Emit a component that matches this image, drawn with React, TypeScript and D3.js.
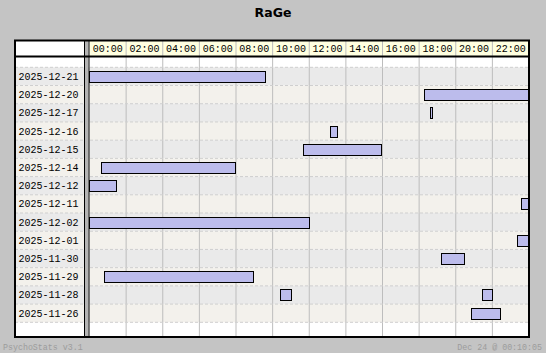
import * as d3 from 'd3';

const W = 546;
const H = 353;

// rows, top to bottom
const days = [
    '2025-12-21', '2025-12-20', '2025-12-17', '2025-12-16', '2025-12-15', '2025-12-14', '2025-12-12',
    '2025-12-11', '2025-12-02', '2025-12-01', '2025-11-30', '2025-11-29', '2025-11-28', '2025-11-26'
];
// sessions: day, start hour, end hour
const sessionDays = [
    '2025-12-21', '2025-12-20', '2025-12-17', '2025-12-16', '2025-12-15', '2025-12-14', '2025-12-12',
    '2025-12-11', '2025-12-02', '2025-12-01', '2025-11-30', '2025-11-29', '2025-11-28', '2025-11-28', '2025-11-26'
];
const sessionStart = [0, 18.3, 18.62, 13.16, 11.68, 0.65, 0, 23.6, 0, 23.38, 19.22, 0.81, 10.43, 21.47, 20.86];
const sessionEnd = [9.63, 24, 18.74, 13.54, 15.95, 7.99, 1.49, 24, 12.01, 24, 20.5, 8.97, 11.05, 22.03, 22.42];
const hourTicks = [0, 2, 4, 6, 8, 10, 12, 14, 16, 18, 20, 22];

const mono = '"Liberation Mono", "DejaVu Sans Mono", monospace';

export default function App() {
    const left = 15;
    const right = 529;
    const top = 41;
    const bottom = 337;
    const labelRight = 84.5;
    const headBottom = 56;
    const x = d3.scaleLinear().domain([0, 24]).range([89.5, right]);
    const y = d3.scaleBand<string>().domain(days).range([67.3, 322.3]);
    const rowH = y.bandwidth();
    const barH = 11;

    return (
        <div>
            <style>{'body{margin:0}'}</style>
            <svg width={W} height={H} style={{ display: 'block', background: '#c4c4c4' }}>
                <text x={W / 2} y={17} textAnchor="middle" fontFamily="DejaVu Sans, sans-serif" fontWeight="bold" fontSize={12.5} fill="#000">
                    RaGe
                </text>

                {/* frame background */}
                <rect x={left} y={top} width={right - left} height={bottom - top} fill="#fff" />

                {/* row backgrounds */}
                {days.map((d, i) => (
                    <rect key={d} x={left} y={y(d)} width={right - left} height={rowH} fill={i % 2 === 0 ? '#eaeaea' : '#f3f1ec'} />
                ))}

                {/* header cells */}
                {hourTicks.map((h) => (
                    <g key={h}>
                        <rect x={x(h)} y={top} width={x(h + 2) - x(h)} height={headBottom - top} fill="#ffffe0" />
                        <text x={(x(h) + x(h + 2)) / 2} y={(top + headBottom) / 2 + 3.5} textAnchor="middle" fontFamily={mono} fontSize={10} fill="#000">
                            {d3.format('02d')(h)}:00
                        </text>
                    </g>
                ))}

                {/* vertical grid */}
                {hourTicks.slice(1).map((h) => (
                    <line key={h} x1={x(h)} x2={x(h)} y1={top} y2={bottom} stroke="#bdbdbd" strokeWidth={1} />
                ))}

                {/* row dividers */}
                {days.map((d) => (
                    <line key={d} x1={left} x2={right} y1={y(d)! + rowH} y2={y(d)! + rowH} stroke="#cfcfcf" strokeDasharray="3,2" />
                ))}
                <line x1={left} x2={right} y1={y(days[0])} y2={y(days[0])} stroke="#cfcfcf" strokeDasharray="3,2" />

                {/* row labels */}
                {days.map((d) => (
                    <text key={d} x={18.5} y={y(d)! + rowH / 2 + 3.5} fontFamily={mono} fontSize={10} fill="#000">
                        {d}
                    </text>
                ))}

                {/* separator between labels and plot */}
                <rect x={labelRight + 0.5} y={top} width={3.5} height={bottom - top} fill="#b4b4b4" />
                <line x1={labelRight} x2={labelRight} y1={top} y2={bottom} stroke="#000" />
                <line x1={89} x2={89} y1={top} y2={bottom} stroke="#000" />

                {/* bars */}
                {sessionDays.map((d, i) => {
                    const xs = Math.floor(x(sessionStart[i]));
                    const xe = Math.min(Math.floor(x(sessionEnd[i])), right - 1);
                    return (
                        <rect
                            key={i}
                            x={xs + 0.5}
                            y={Math.round(y(d)! + (rowH - barH) / 2) + 0.5}
                            width={Math.max(2, xe - xs)}
                            height={barH}
                            fill="#bcbcec"
                            stroke="#000"
                            strokeWidth={1}
                        />
                    );
                })}

                {/* header bottom line */}
                <line x1={left} x2={right} y1={headBottom + 0.5} y2={headBottom + 0.5} stroke="#000" strokeWidth={2} />

                {/* frame */}
                <rect x={left} y={top - 0.5} width={right - left} height={bottom - top + 0.5} fill="none" stroke="#000" strokeWidth={2} />

                <text x={3} y={350} fontFamily={mono} fontSize={8.3} fill="#9c9c9c">
                    PsychoStats v3.1
                </text>
                <text x={542} y={350} textAnchor="end" fontFamily={mono} fontSize={8.3} fill="#9c9c9c">
                    Dec 24 @ 00:10:05
                </text>
            </svg>
        </div>
    );
}
